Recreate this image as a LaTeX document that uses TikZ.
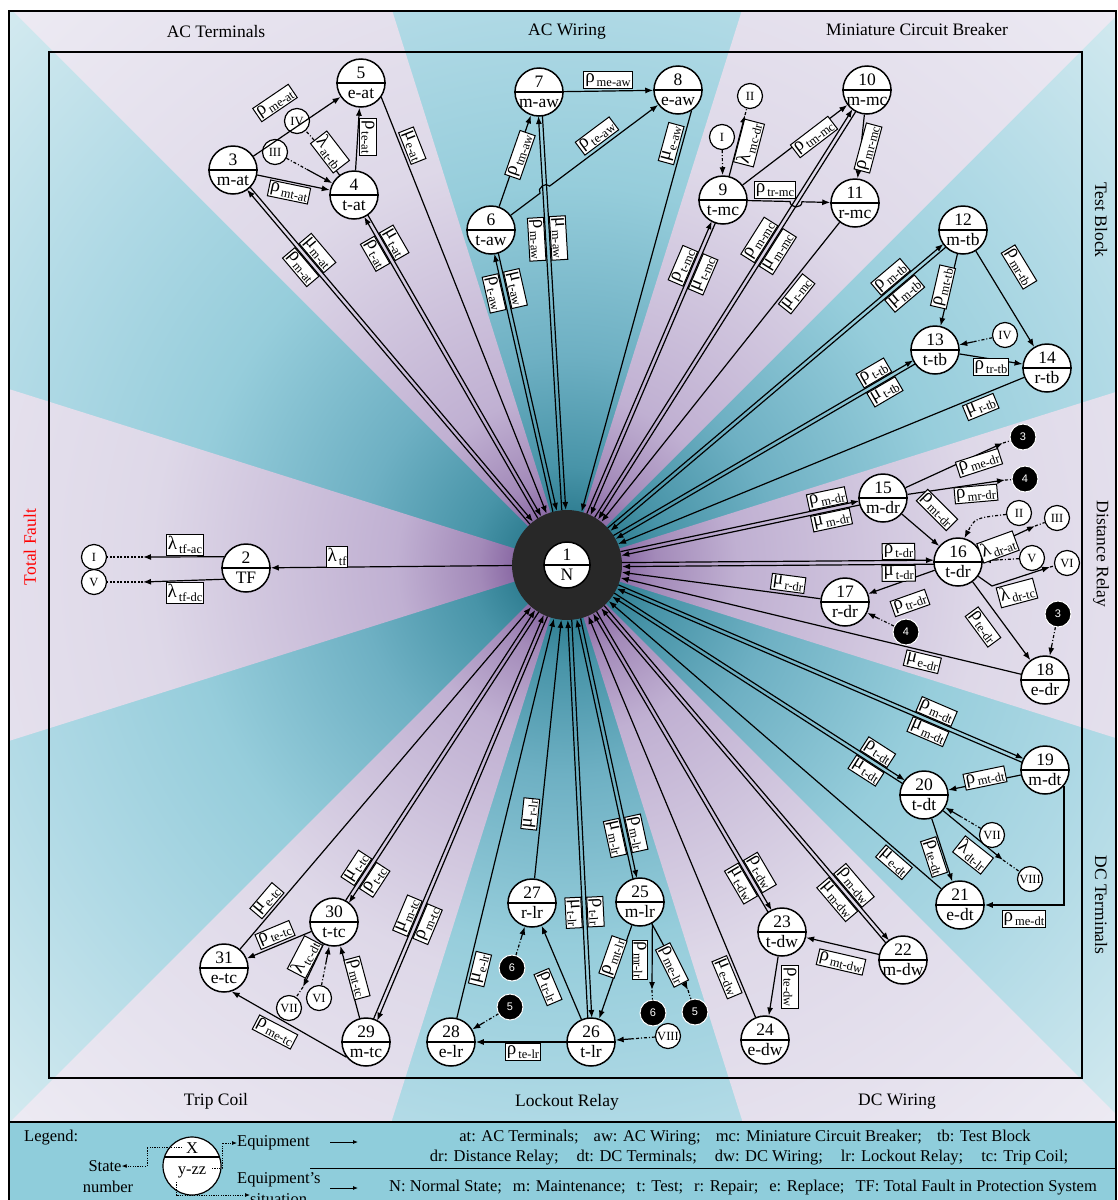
\documentclass[tikz,border=0pt]{standalone}
\usepackage{fontspec}
\setmainfont{Liberation Serif}
\newfontfamily\sansf{Liberation Sans}
\usetikzlibrary{shapes.geometric,calc,arrows.meta}
\definecolor{tA}{RGB}{40,115,135}
\definecolor{tB}{RGB}{50,128,148}
\definecolor{tC}{RGB}{72,148,168}
\definecolor{tD}{RGB}{110,176,195}
\definecolor{tE}{RGB}{150,205,219}
\definecolor{tF}{RGB}{175,217,229}
\definecolor{tG}{RGB}{216,236,241}
\definecolor{lA}{RGB}{128,96,158}
\definecolor{lB}{RGB}{140,108,166}
\definecolor{lC}{RGB}{163,138,185}
\definecolor{lD}{RGB}{192,176,210}
\definecolor{lE}{RGB}{222,216,232}
\definecolor{lF}{RGB}{238,236,244}
\definecolor{ringc}{RGB}{40,40,40}
\definecolor{legc}{RGB}{143,205,219}
\pgfdeclareradialshading{tealrad}{\pgfpoint{0bp}{0bp}}{color(0bp)=(tA); color(1.7bp)=(tB); color(3bp)=(tC); color(6.4bp)=(tD); color(11.6bp)=(tE); color(17bp)=(tF); color(25bp)=(tG); color(50bp)=(tG)}
\pgfdeclareradialshading{lavrad}{\pgfpoint{0bp}{0bp}}{color(0bp)=(lA); color(1.7bp)=(lB); color(2.7bp)=(lC); color(5.2bp)=(lD); color(12.7bp)=(lE); color(25bp)=(lF); color(50bp)=(lF)}
\newcommand\rl[2]{#1\kern2pt\raisebox{-4pt}{\fontsize{12.5}{12.5}\selectfont #2}}
\newcommand\snd[4]{%
 \node[scirc] (#1) at (#2) {};
 \draw[line width=1.4pt] (#1.west) -- (#1.east);
 \node[stxt] (#1u) at ($(#1.center)+(0,-5)$) {#3};
 \node[stxt] (#1l) at ($(#1.center)+(0,15)$) {#4};}
\newcommand\pairln[1]{%
 \coordinate (pA) at ($(n1.center)!55pt!(#1.center)$);
 \coordinate (pB) at ($(#1.center)!24pt!(n1.center)$);
 \draw[arr] ($(pA)!2pt!90:(#1.center)$) -- ($(pB)!2pt!-90:(n1.center)$);
 \draw[arr] ($(pB)!2pt!90:(n1.center)$) -- ($(pA)!2pt!-90:(#1.center)$);}
\newcommand\pairlab[4]{\path (n1.center) -- (#1.center) node[lab, pos=#2, sloped, above=2.5pt]{#3} node[lab, pos=#2, sloped, below=2.5pt]{#4};}
\newcommand\sglab[4]{\path (#1) -- (n1) node[lab, pos=#2, sloped, #3=2.5pt]{#4};}
\newcommand\outx[3]{\draw[arr] (#1) -- (#2); \draw[dd] (#2) -- (#3);}
\newcommand\incx[3]{\draw[dd] (#1) -- ($(#1)!#3!(#2)$); \draw[arr] ($(#1)!#3!(#2)$) -- (#2);}
\begin{document}
\begin{tikzpicture}[x=1pt,y=-1pt,
  scirc/.style={circle, draw, fill=white, line width=1.5pt, minimum size=48pt, inner sep=0pt},
  stxt/.style={anchor=base, inner sep=0pt, font=\fontsize{17.5}{17.5}\selectfont},
  rnode/.style={circle, draw, fill=white, line width=1.2pt, minimum size=25pt, inner sep=0pt, font=\fontsize{12.5}{12.5}\selectfont},
  bnode/.style={circle, fill=black, draw=white, line width=1pt, minimum size=26pt, inner sep=0pt, text=white, font=\sansf\fontsize{11}{11}\selectfont},
  lab/.style={draw, fill=white, line width=1pt, inner sep=1.5pt, font=\fontsize{19}{19}\selectfont},
  arr/.style={draw, line width=1.2pt, -{Latex[length=8pt,width=6pt]}},
  dd/.style={line width=1.2pt, dash pattern=on 3pt off 2pt on 1pt off 2pt},
  dtl/.style={line width=1.2pt, dash pattern=on 2pt off 1.5pt},
  ttl/.style={font=\fontsize{17.5}{17.5}\selectfont},
  lgt/.style={font=\fontsize{16.5}{16.5}\selectfont, inner sep=0pt},
  ldot/.style={line width=0.8pt, dash pattern=on 1.2pt off 1.2pt},
  ltip/.style={-{Latex[length=5pt,width=4pt]}}
]
\useasboundingbox (0,0) rectangle (1118,1200);
\coordinate (C) at (567,565);
% background
\fill[legc] (9,1122) rectangle (1116,1200);
\begin{scope}
 \clip (9,11) rectangle (1116,1122);
 \shade[shading=tealrad] (C) circle[radius=820];
 \clip (C) -- ($(C)+(17.5:1300)$) -- ($(C)+(-17.5:1300)$) -- cycle
       (C) -- ($(C)+(-45:1300)$) -- ($(C)+(-72.5:1300)$) -- cycle
       (C) -- ($(C)+(-107.5:1300)$) -- ($(C)+(-135:1300)$) -- cycle
       (C) -- ($(C)+(-162.5:1300)$) -- ($(C)+(-197.5:1300)$) -- cycle
       (C) -- ($(C)+(-225:1300)$) -- ($(C)+(-252.5:1300)$) -- cycle
       (C) -- ($(C)+(-287.5:1300)$) -- ($(C)+(-315:1300)$) -- cycle;
 \shade[shading=lavrad] (C) circle[radius=820];
\end{scope}
\draw[line width=1.5pt] (9,1200) -- (9,11) -- (1116,11) -- (1116,1200);
\draw[line width=1.5pt] (9,1122) -- (1116,1122);
\draw[line width=1.5pt] (49,52) rectangle (1082,1078);
% titles
\node[ttl] (tiAT) at (216,32) {AC Terminals};
\node[ttl] (tiAW) at (567,32) {AC Wiring};
\node[ttl] (tiMC) at (917,30) {Miniature Circuit Breaker};
\node[ttl, rotate=-90] (tiTB) at (1101,220) {Test Block};
\node[ttl, rotate=-90] (tiDR) at (1101,554) {Distance Relay};
\node[ttl, rotate=-90] (tiDT) at (1101,905) {DC Terminals};
\node[ttl] (tiTC) at (216,1101) {Trip Coil};
\node[ttl] (tiLR) at (567,1102) {Lockout Relay};
\node[ttl] (tiDW) at (897,1102) {DC Wiring};
\node[ttl, rotate=90, text=red] (tiTF) at (30,547) {Total Fault};
% nodes
\node[circle, fill=ringc, minimum size=110pt, inner sep=0pt] (n1) at (567,565) {};
\node[scirc, minimum size=46pt] (n1c) at (567,565) {};
\draw[line width=1.4pt] (n1c.west) -- (n1c.east);
\node[stxt] (n1u) at (567,560) {1};
\node[stxt] (n1l) at (567,580) {N};
\snd{n2}{246,568}{2}{TF}
\snd{n3}{233,170}{3}{m-at}
\snd{n4}{354,195}{4}{t-at}
\snd{n5}{361,83}{5}{e-at}
\snd{n6}{491,230}{6}{t-aw}
\snd{n7}{539,92}{7}{m-aw}
\snd{n8}{678,90}{8}{e-aw}
\snd{n9}{723,200}{9}{t-mc}
\snd{n10}{867,90}{10}{m-mc}
\snd{n11}{855,203}{11}{r-mc}
\snd{n12}{963,230}{12}{m-tb}
\snd{n13}{935,350}{13}{t-tb}
\snd{n14}{1047,368}{14}{r-tb}
\snd{n15}{883,498}{15}{m-dr}
\snd{n16}{958,562}{16}{t-dr}
\snd{n17}{845,602}{17}{r-dr}
\snd{n18}{1045,680}{18}{e-dr}
\snd{n19}{1045,770}{19}{m-dt}
\snd{n20}{924,795}{20}{t-dt}
\snd{n21}{960,905}{21}{e-dt}
\snd{n22}{903,960}{22}{m-dw}
\snd{n23}{782,932}{23}{t-dw}
\snd{n24}{765,1040}{24}{e-dw}
\snd{n25}{640,902}{25}{m-lr}
\snd{n26}{591,1042}{26}{t-lr}
\snd{n27}{532,903}{27}{r-lr}
\snd{n28}{451,1042}{28}{e-lr}
\snd{n29}{366,1042}{29}{m-tc}
\snd{n30}{334,922}{30}{t-tc}
\snd{n31}{224,968}{31}{e-tc}
% external state markers
\node[rnode] (xI2) at (94,557) {I};
\node[rnode] (xV2) at (94,582) {V};
\node[rnode] (xIVa) at (297,121) {IV};
\node[rnode] (xIIIa) at (275,152) {III};
\node[rnode] (xIb) at (722,137) {I};
\node[rnode] (xIIb) at (750,96) {II};
\node[rnode] (xIVc) at (1005,335) {IV};
\node[bnode] (b3a) at (1023,437) {3};
\node[bnode] (b4a) at (1025,479) {4};
\node[rnode] (xIId) at (1019,513) {II};
\node[rnode] (xIIId) at (1057,518) {III};
\node[rnode] (xVd) at (1032,558) {V};
\node[rnode] (xVId) at (1067,563) {VI};
\node[bnode] (b4b) at (906,632) {4};
\node[bnode] (b3b) at (1058,614) {3};
\node[rnode] (xVIIe) at (992,835) {VII};
\node[rnode] (xVIIIe) at (1030,879) {VIII};
\node[bnode] (b6a) at (512,968) {6};
\node[bnode] (b5a) at (510,1007) {5};
\node[bnode] (b6b) at (653,1013) {6};
\node[bnode] (b5b) at (695,1012) {5};
\node[rnode] (xVIIIf) at (668,1036) {VIII};
\node[rnode] (xVIIg) at (289,1008) {VII};
\node[rnode] (xVIg) at (319,998) {VI};
% connectors to and from N
\foreach \X in {n3,n4,n6,n7,n9,n10,n12,n13,n15,n16,n19,n20,n22,n23,n25,n26,n29,n30} {\pairln{\X}}
\draw[arr] (n1) -- (n2);
\draw[arr] (n5.-35) -- (n1);
\draw[arr] (n8.-57) -- (n1);
\foreach \X in {n11,n14,n17,n18,n21,n24,n27,n28,n31} {\draw[arr] (\X) -- (n1);}
% internal connectors
\draw[arr] (n3) -- (n5);
\draw[arr] (n3) -- (n4);
\draw[arr] (n4) -- (n5);
\draw[arr] (n7) -- (n8);
\draw[arr] (n6) -- (n7);
\coordinate (h1) at (540,193.3); \coordinate (h2) at (549.6,186.1);
\coordinate (h1c) at (536.4,188.5); \coordinate (h2c) at (546,181.3);
\draw[arr] (n6) -- (h1) .. controls (h1c) and (h2c) .. (h2) -- (n8);
\draw[arr] (n9) -- (n10);
\draw[arr] (n10) -- (n11);
\coordinate (g1) at (790,201.5); \coordinate (g2) at (802,201.8);
\coordinate (g1c) at (790,208.5); \coordinate (g2c) at (802,208.8);
\draw[arr] (n9) -- (g1) .. controls (g1c) and (g2c) .. (g2) -- (n11);
\draw[arr] (n12) -- (n13);
\draw[arr] (n12) -- (n14);
\draw[arr] (n13) -- (n14);
\draw[arr] (n15) -- (n16);
\draw[arr] (n16) -- (n17);
\draw[arr] (n16) -- (n18);
\draw[arr] (n19) -- (n20);
\draw[arr] (n19.-40) |- (n21);
\draw[arr] (n20) -- (n21);
\draw[arr] (n22) -- (n23);
\draw[arr] (n23) -- (n24);
\draw[arr] (n25) -- (n26);
\draw[arr] (n26) -- (n27);
\draw[arr] (n26) -- (n28);
\draw[arr] (n29) -- (n30);
\draw[arr] (n29.218) -- (n31.-72);
\draw[arr] (n30) -- (n31);
% transitions to other blocks
\coordinate (mI2) at (143,557); \coordinate (mV2) at (143,582);
\draw[arr] (n2.153) -- (mI2); \draw[dtl] (mI2) -- (xI2);
\draw[arr] (n2.207) -- (mV2); \draw[dtl] (mV2) -- (xV2);
\coordinate (mIVa) at (314,140); \outx{n4}{mIVa}{xIVa}
\incx{xIIIa}{n4}{0.4}
\incx{xIb}{n9}{0.55}
\coordinate (mIIb) at (745,115); \outx{n9}{mIIb}{xIIb}
\incx{xIVc}{n13}{0.45}
\coordinate (m3a) at (1003,443); \outx{n15}{m3a}{b3a}
\coordinate (m4a) at (1005,480); \outx{n15}{m4a}{b4a}
\coordinate (cII) at (975,518);
\draw[dd, -{Latex[length=8pt,width=6pt]}] (xIId) .. controls (cII) .. (n16.75);
\coordinate (mIIId) at (1035,526); \outx{n16}{mIIId}{xIIId}
\incx{xVd}{n16}{0.45}
\coordinate (kVI) at (992,586); \coordinate (mVId) at (1050,567);
\draw[arr] (n16) -- (kVI) -- (mVId); \draw[dd] (mVId) -- (xVId);
\incx{b4b}{n17}{0.45}
\incx{b3b}{n18}{0.45}
\incx{xVIIe}{n20}{0.45}
\coordinate (mVIIIe) at (1003,860); \outx{n20}{mVIIIe}{xVIIIe}
\incx{b6a}{n27}{0.45}
\incx{b5a}{n28}{0.45}
\coordinate (m6b) at (652,990); \outx{n25.-60}{m6b}{b6b}
\coordinate (m5b) at (688,990); \outx{n25}{m5b}{b5b}
\incx{xVIIIf}{n26}{0.45}
\coordinate (mVIIg) at (303,987); \outx{n30}{mVIIg}{xVIIg}
\incx{xVIg}{n30}{0.45}
% labels of connectors to and from N
\pairlab{n3}{.772}{\rl{μ}{m-at}}{\rl{ρ}{m-at}}
\pairlab{n4}{.856}{\rl{μ}{t-at}}{\rl{ρ}{t-at}}
\pairlab{n6}{.818}{\rl{μ}{t-aw}}{\rl{ρ}{t-aw}}
\pairlab{n7}{.69}{\rl{μ}{m-aw}}{\rl{ρ}{m-aw}}
\pairlab{n9}{.808}{\rl{ρ}{t-mc}}{\rl{μ}{t-mc}}
\pairlab{n10}{.672}{\rl{ρ}{m-mc}}{\rl{μ}{m-mc}}
\pairlab{n12}{.835}{\rl{ρ}{m-tb}}{\rl{μ}{m-tb}}
\pairlab{n13}{.849}{\rl{ρ}{t-tb}}{\rl{μ}{t-tb}}
\pairlab{n15}{.83}{\rl{ρ}{m-dr}}{\rl{μ}{m-dr}}
\pairlab{n16}{.848}{\rl{ρ}{t-dr}}{\rl{μ}{t-dr}}
\pairlab{n19}{.764}{\rl{ρ}{m-dt}}{\rl{μ}{m-dt}}
\pairlab{n20}{.854}{\rl{ρ}{t-dt}}{\rl{μ}{t-dt}}
\pairlab{n22}{.829}{\rl{ρ}{m-dw}}{\rl{μ}{m-dw}}
\pairlab{n23}{.853}{\rl{ρ}{t-dw}}{\rl{μ}{t-dw}}
\pairlab{n25}{.803}{\rl{ρ}{m-lr}}{\rl{μ}{m-lr}}
\pairlab{n26}{.728}{\rl{ρ}{t-lr}}{\rl{μ}{t-lr}}
\pairlab{n29}{.744}{\rl{μ}{m-tc}}{\rl{ρ}{m-tc}}
\pairlab{n30}{.865}{\rl{μ}{t-tc}}{\rl{ρ}{t-tc}}
\sglab{n5.-35}{.126}{above}{\rl{μ}{e-at}}
\sglab{n8.-57}{.089}{above}{\rl{μ}{e-aw}}
\sglab{n11}{.216}{below}{\rl{μ}{r-mc}}
\sglab{n14}{.117}{below}{\rl{μ}{r-tb}}
\sglab{n17}{.17}{above}{\rl{μ}{r-dr}}
\sglab{n18}{.24}{below}{\rl{μ}{e-dr}}
\sglab{n21}{.121}{below}{\rl{μ}{e-dt}}
\sglab{n24}{.11}{below}{\rl{μ}{e-dw}}
\sglab{n27}{.245}{above}{\rl{μ}{r-lr}}
\sglab{n28}{.129}{below}{\rl{μ}{e-lr}}
\sglab{n31}{.121}{above}{\rl{μ}{e-tc}}
% internal labels
\node[lab] (Ltf) at (337,557) {\rl{λ}{tf}};
\node[lab] (Ltfac) at (185,545) {\rl{λ}{tf-ac}};
\node[lab] (Ltfdc) at (185,593) {\rl{λ}{tf-dc}};
\node[lab, rotate=34.2] (L1) at (275,103) {\rl{ρ}{me-at}};
\node[lab, rotate=-52.4] (L2) at (330,152) {\rl{λ}{at-tb}};
\node[lab, rotate=-90] (L3) at (368,137) {\rl{ρ}{te-at}};
\node[lab, rotate=-11.7] (L4) at (289,192) {\rl{ρ}{mt-at}};
\node[lab] (L5) at (608,80) {\rl{ρ}{me-aw}};
\node[lab, rotate=70.8] (L6) at (520,155) {\rl{ρ}{tm-aw}};
\node[lab, rotate=36.8] (L7) at (597,136) {\rl{ρ}{te-aw}};
\node[lab, rotate=75.4] (L8) at (749,143) {\rl{λ}{mc-dr}};
\node[lab, rotate=37.4] (L9) at (814,137) {\rl{ρ}{tm-mc}};
\node[lab, rotate=75] (L10) at (868,148) {\rl{ρ}{mr-mc}};
\node[lab] (L11) at (775,190) {\rl{ρ}{tr-mc}};
\node[lab, rotate=77] (L12) at (943,287) {\rl{ρ}{mt-tb}};
\node[lab, rotate=-58.7] (L13) at (1019,267) {\rl{ρ}{mr-tb}};
\node[lab] (L14) at (991,367) {\rl{ρ}{tr-tb}};
\node[lab, rotate=18] (L15) at (979,463) {\rl{ρ}{me-dr}};
\node[lab, rotate=5] (L16) at (976,494) {\rl{ρ}{mr-dr}};
\node[lab, rotate=-45] (L17) at (937,510) {\rl{ρ}{mt-dr}};
\node[lab, rotate=20] (L18) at (998,547) {\rl{λ}{dr-at}};
\node[lab, rotate=15] (L19) at (1017,593) {\rl{λ}{dr-tc}};
\node[lab, rotate=19.5] (L20) at (910,603) {\rl{ρ}{tr-dr}};
\node[lab, rotate=-53.6] (L21) at (983,627) {\rl{ρ}{te-dr}};
\node[lab, rotate=11.7] (L22) at (985,778) {\rl{ρ}{mt-dt}};
\node[lab, rotate=-71.9] (L23) at (934,857) {\rl{ρ}{te-dt}};
\node[lab, rotate=-38.4] (L24) at (973,855) {\rl{λ}{dt-lr}};
\node[lab] (L25) at (1024,919) {\rl{ρ}{me-dt}};
\node[lab, rotate=-13] (L26) at (841,962) {\rl{ρ}{mt-dw}};
\node[lab, rotate=-90] (L27) at (790,987) {\rl{ρ}{te-dw}};
\node[lab, rotate=-67] (L28) at (548,987) {\rl{ρ}{tr-lr}};
\node[lab, rotate=70.7] (L29) at (613,957) {\rl{ρ}{mt-lr}};
\node[lab, rotate=-90] (L30) at (640,960) {\rl{ρ}{mr-lr}};
\node[lab, rotate=-63.4] (L31) at (672,965) {\rl{ρ}{me-lr}};
\node[lab] (L32) at (523,1052) {\rl{ρ}{te-lr}};
\node[lab, rotate=22.7] (L33) at (275,935) {\rl{ρ}{te-tc}};
\node[lab, rotate=62.4] (L34) at (305,957) {\rl{λ}{tc-dt}};
\node[lab, rotate=-75] (L35) at (357,978) {\rl{ρ}{mt-tc}};
\node[lab, rotate=-27.5] (L36) at (275,1032) {\rl{ρ}{me-tc}};
% legend
\node[lgt, anchor=west] (lgL) at (24,1138) {Legend:};
\node[scirc, minimum size=58pt, line width=1.2pt] (lgC) at (192,1166) {};
\coordinate (lgd1) at (164.5,1157); \coordinate (lgd2) at (219.5,1157);
\draw[line width=1.2pt] (lgd1) -- (lgd2);
\node[lgt, anchor=base] (lgX) at (192,1153) {X};
\node[lgt, anchor=base] (lgY) at (192,1174) {y-zz};
\node[lgt] (lgS) at (105,1166) {State};
\node[lgt] (lgN) at (108,1187) {number};
\node[lgt, anchor=west] (lgE) at (237,1143) {Equipment};
\node[lgt, anchor=west] (lgE2) at (237,1180) {Equipment's};
\node[lgt, anchor=west] (lgS2) at (250,1199) {situation};
\coordinate (la1) at (182,1147); \coordinate (la2) at (147,1147); \coordinate (la3) at (147,1166);
\draw[ldot, ltip] (la1) -- (la2) -- (la3) -- (lgS.east);
\coordinate (lb1) at (212,1168); \coordinate (lb2) at (222,1168); \coordinate (lb3) at (222,1143);
\draw[ldot, ltip] (lb1) -- (lb2) -- (lb3) -- (lgE.west);
\coordinate (lc1) at (176,1182); \coordinate (lc2) at (176,1195);
\draw[ldot, ltip] (lc1) -- (lc2) -- (lgS2.west |- lc2);
\coordinate (q1) at (330,1142); \coordinate (q2) at (358,1142);
\coordinate (q3) at (330,1188); \coordinate (q4) at (358,1188);
\draw[line width=0.8pt, ltip] (q1) -- (q2);
\draw[line width=0.8pt, ltip] (q3) -- (q4);
\node[lgt] (lgA) at (745,1138) {at: AC Terminals;\hspace{15pt}aw: AC Wiring;\hspace{15pt}mc: Miniature Circuit Breaker;\hspace{15pt}tb: Test Block};
\node[lgt] (lgB) at (749,1158) {dr: Distance Relay;\hspace{18pt}dt: DC Terminals;\hspace{18pt}dw: DC Wiring;\hspace{18pt}lr: Lockout Relay;\hspace{18pt}tc: Trip Coil;};
\coordinate (ls1) at (310,1168); \coordinate (ls2) at (1116,1168);
\draw[line width=1pt] (ls1) -- (ls2);
\node[lgt] (lgD) at (743,1188) {N: Normal State;\hspace{11pt}m: Maintenance;\hspace{11pt}t: Test;\hspace{11pt}r: Repair;\hspace{11pt}e: Replace;\hspace{11pt}TF: Total Fault in Protection System};
\end{tikzpicture}
\end{document}
